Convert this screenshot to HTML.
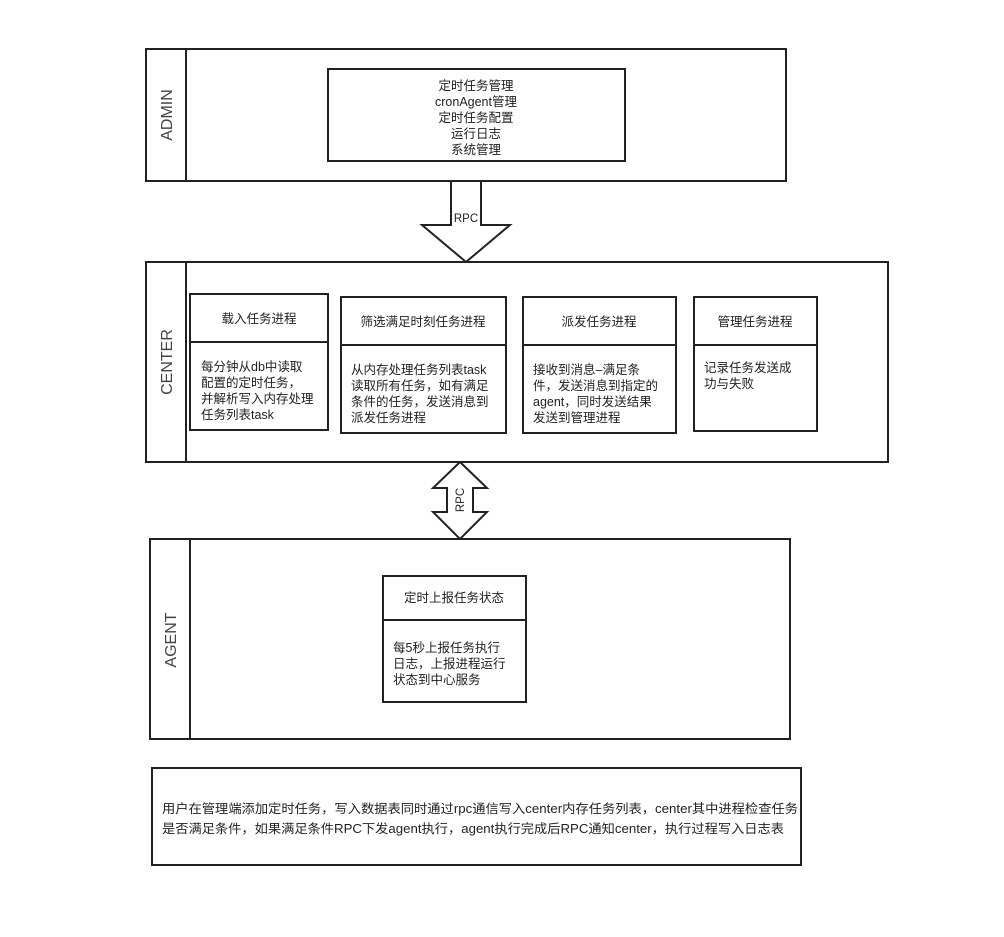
<!DOCTYPE html>
<html><head><meta charset="utf-8"><style>
html,body{margin:0;padding:0;background:#fff;}
svg text{font-family:"Liberation Sans","Noto Sans CJK SC",sans-serif;fill:#222;}
</style></head><body>
<svg width="1004" height="932" viewBox="0 0 1004 932" xmlns="http://www.w3.org/2000/svg">
<g fill="#fff" stroke="#222" stroke-width="2">
<rect x="146" y="49" width="640" height="132"/>
<line x1="186" y1="49" x2="186" y2="181"/>
<rect x="328" y="69" width="297" height="92"/>
<polygon points="451,181 481,181 481,225 510,225 466,262 422,225 451,225"/>
<rect x="146" y="262" width="742" height="200"/>
<line x1="186" y1="262" x2="186" y2="462"/>
<rect x="190" y="294" width="138" height="136"/><line x1="190" y1="342" x2="328" y2="342"/>
<rect x="341" y="297" width="165" height="136"/><line x1="341" y1="345" x2="506" y2="345"/>
<rect x="523" y="297" width="153" height="136"/><line x1="523" y1="345" x2="676" y2="345"/>
<rect x="694" y="297" width="123" height="134"/><line x1="694" y1="345" x2="817" y2="345"/>
<polygon points="460,462 487,488 473,488 473,512 487,512 460,539 433,512 447,512 447,488 433,488"/>
<rect x="150" y="539" width="640" height="200"/>
<line x1="190" y1="539" x2="190" y2="739"/>
<rect x="383" y="576" width="143" height="126"/><line x1="383" y1="620" x2="526" y2="620"/>
<rect x="152" y="768" width="649" height="97"/>
</g>
<g font-size="16">
<text transform="translate(172,115) rotate(-90)" text-anchor="middle" style="fill:#444">ADMIN</text>
<text transform="translate(172,362) rotate(-90)" text-anchor="middle" style="fill:#444">CENTER</text>
<text transform="translate(176,640) rotate(-90)" text-anchor="middle" style="fill:#444">AGENT</text>
</g>
<g font-size="12.5" text-anchor="middle">
<text x="476" y="90">定时任务管理</text>
<text x="476" y="106">cronAgent管理</text>
<text x="476" y="122">定时任务配置</text>
<text x="476" y="138">运行日志</text>
<text x="476" y="154">系统管理</text>
<text x="466" y="222" font-size="11.5">RPC</text>
<text x="259" y="323">载入任务进程</text>
<text x="423" y="326">筛选满足时刻任务进程</text>
<text x="599" y="326">派发任务进程</text>
<text x="755" y="326">管理任务进程</text>
<text x="454" y="602">定时上报任务状态</text>
</g>
<text transform="translate(464,500) rotate(-90)" text-anchor="middle" font-size="11.5">RPC</text>
<g font-size="12.5">
<text x="201" y="371">每分钟从db中读取</text>
<text x="201" y="387">配置的定时任务，</text>
<text x="201" y="403">并解析写入内存处理</text>
<text x="201" y="419">任务列表task</text>
<text x="351" y="374">从内存处理任务列表task</text>
<text x="351" y="390">读取所有任务，如有满足</text>
<text x="351" y="406">条件的任务，发送消息到</text>
<text x="351" y="422">派发任务进程</text>
<text x="533" y="374">接收到消息–满足条</text>
<text x="533" y="390">件，发送消息到指定的</text>
<text x="533" y="406">agent，同时发送结果</text>
<text x="533" y="422">发送到管理进程</text>
<text x="704" y="372">记录任务发送成</text>
<text x="704" y="388">功与失败</text>
<text x="393" y="652">每5秒上报任务执行</text>
<text x="393" y="668">日志，上报进程运行</text>
<text x="393" y="684">状态到中心服务</text>
<text x="162" y="813" textLength="636" lengthAdjust="spacingAndGlyphs">用户在管理端添加定时任务，写入数据表同时通过rpc通信写入center内存任务列表，center其中进程检查任务</text>
<text x="162" y="833" textLength="622" lengthAdjust="spacingAndGlyphs">是否满足条件，如果满足条件RPC下发agent执行，agent执行完成后RPC通知center，执行过程写入日志表</text>
</g>
</svg>
</body></html>
